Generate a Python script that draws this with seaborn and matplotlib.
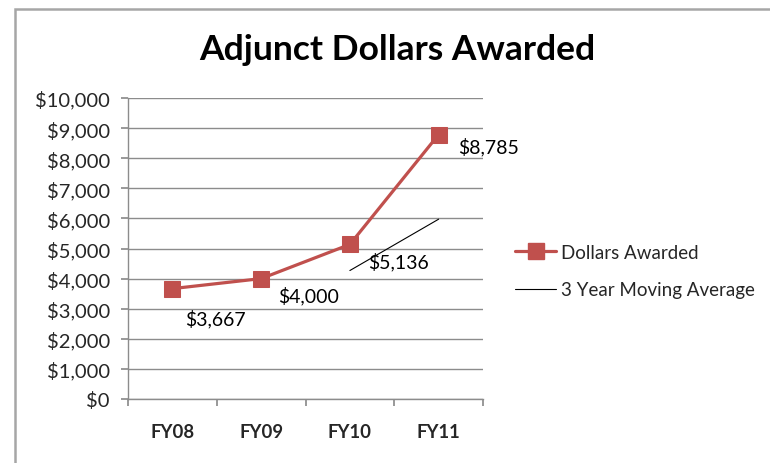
import numpy as np
import pandas as pd
import matplotlib
matplotlib.use("Agg")
import matplotlib.pyplot as plt
import seaborn as sns
from matplotlib.patches import Rectangle
from matplotlib.lines import Line2D

# Data
years = ["FY08", "FY09", "FY10", "FY11"]
dollars = [3667, 4000, 5136, 8785]
moving_avg = [np.nan, np.nan, 4268, 5974]
y_ticks = list(range(0, 10001, 1000))

# label offsets (points) for the data labels, as in the original
label_offsets = [(9, -21), (12, -12), (13, -12), (14, -8)]

RED = "#C0504D"
GRID = "#8c8c8c"

sns.set_theme(style="white")
plt.rcParams["font.family"] = ["Lato", "DejaVu Sans"]

df = pd.DataFrame({"year": years, "dollars": dollars, "ma": moving_avg})

fig = plt.figure(figsize=(7.7, 4.64), dpi=100)
ax = fig.add_axes([128 / 770, 64 / 464, 355 / 770, 301 / 464])

sns.lineplot(data=df, x="year", y="dollars", ax=ax, color=RED, lw=2.3,
             marker="s", markersize=11, markeredgecolor=RED, sort=False)
sns.lineplot(data=df.dropna(), x="year", y="ma", ax=ax, color="black", lw=0.8)

# data labels
for i, (v, off) in enumerate(zip(dollars, label_offsets)):
    ax.annotate(f"${v:,}", (i, v), xytext=off, textcoords="offset points",
                ha="left", va="center", fontsize=14, color="black")

ax.set_xlim(-0.5, 3.5)
ax.set_ylim(0, 10000)
ax.set_yticks(y_ticks)
ax.set_yticklabels([f"${t:,}" for t in y_ticks], fontsize=14.5)
ax.yaxis.grid(True, color=GRID, lw=1)
ax.set_axisbelow(True)

# x ticks between categories, labels at category centres
ax.set_xticks(np.arange(-0.5, 4, 1))
ax.set_xticklabels([])
ax.set_xticks(range(len(years)), minor=True)
ax.set_xticklabels(years, minor=True, fontsize=13.3, fontweight="bold")
ax.tick_params(axis="x", which="major", length=5, color=GRID, direction="out", bottom=True)
ax.tick_params(axis="x", which="minor", length=0, pad=17)
ax.tick_params(axis="y", length=5, color=GRID, direction="out", left=True, pad=8)
ax.set_xlabel("")
ax.set_ylabel("")

for side in ["top", "right"]:
    ax.spines[side].set_visible(False)
for side in ["left", "bottom"]:
    ax.spines[side].set_color(GRID)
    ax.spines[side].set_linewidth(1)

handles = [
    Line2D([], [], color=RED, lw=2.3, marker="s", markersize=11),
    Line2D([], [], color="black", lw=0.8),
]
fig.legend(handles, ["Dollars Awarded", "3 Year Moving Average"],
           loc="center left", bbox_to_anchor=(498 / 770, (464 - 272) / 464),
           frameon=False, fontsize=13.5, handlelength=2.2, handletextpad=0.25,
           labelspacing=1.1)

fig.suptitle("Adjunct Dollars Awarded", x=397 / 770, y=(464 - 50) / 464,
             va="center", fontsize=25.5, fontweight="bold", color="black")

# outer chart border (only top and left edges visible in the crop)
fig.patches.append(Rectangle((15 / 770, -0.1), 1.2, (464 - 10) / 464 + 0.1,
                             transform=fig.transFigure, fill=False,
                             edgecolor="#a6a6a6", lw=1.8))

fig.savefig("out.png", dpi=100)
